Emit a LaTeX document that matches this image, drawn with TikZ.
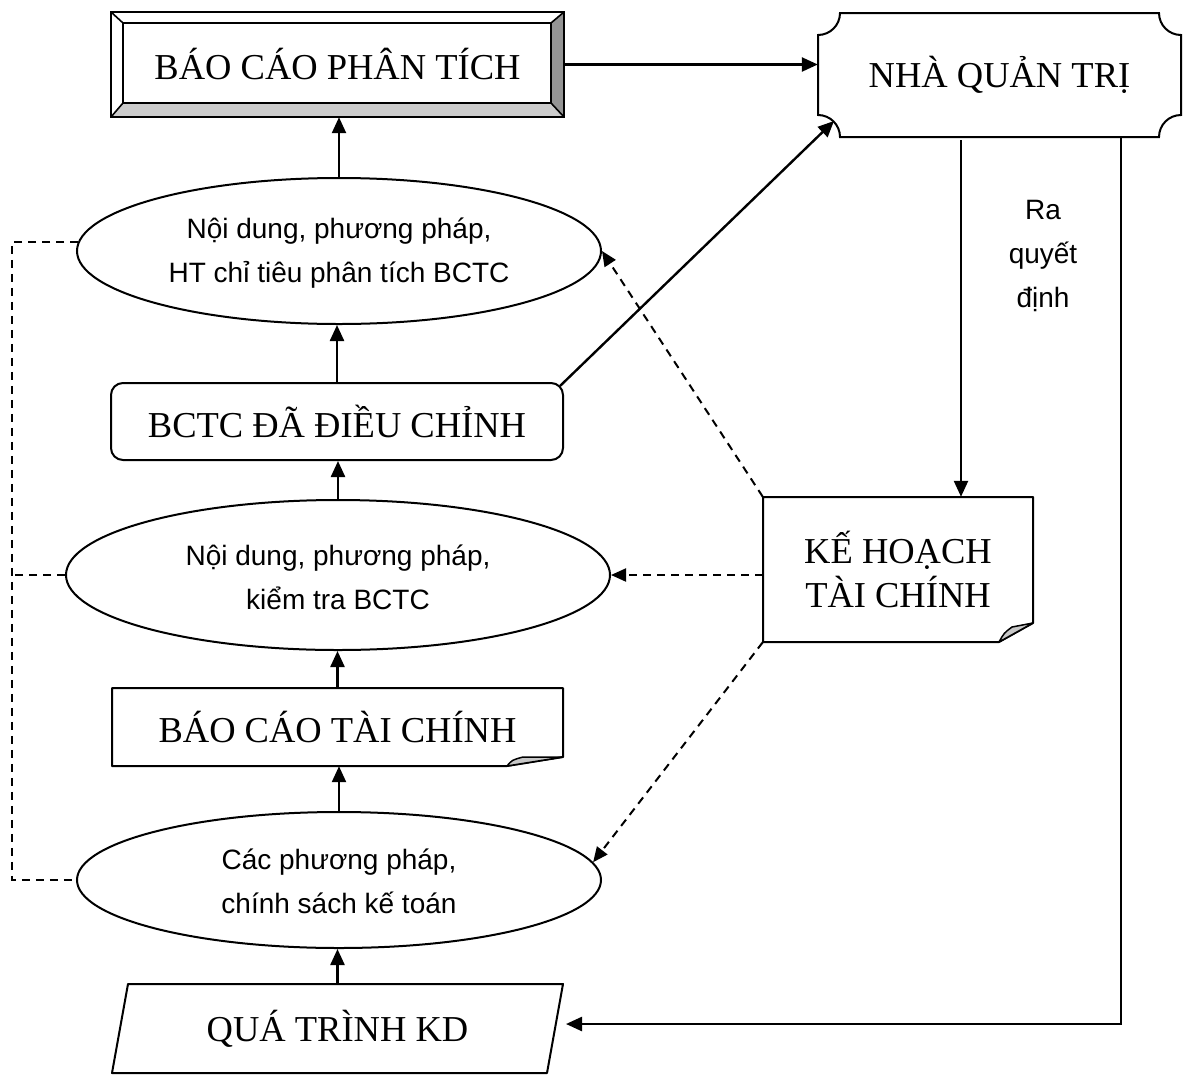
\documentclass[tikz,border=0pt]{standalone}
\usepackage{fontspec}
\setmainfont{Liberation Serif}
\newfontfamily\arialf{Liberation Sans}
\usetikzlibrary{shapes.geometric,arrows.meta,calc}

\begin{document}
\begin{tikzpicture}[x=1pt,y=-1pt,
  outline/.style={line width=2pt, draw=black},
  conn/.style={line width=2.4pt, -{Triangle[length=16pt,width=14pt]}},
  dconn/.style={line width=2pt, dash pattern=on 8pt off 6pt, -{Triangle[length=15pt,width=13pt]}},
  dline/.style={line width=1.7pt, dash pattern=on 8pt off 6pt},
  bigtxt/.style={font=\fontsize{36.5}{44}\selectfont, align=center, inner sep=0pt},
  smalltxt/.style={font=\arialf\fontsize{28}{44}\selectfont, align=center, inner sep=0pt},
  oval/.style={ellipse, outline, inner sep=0pt},
]
\useasboundingbox (0,0) rectangle (1183,1074);

% bevelled frame of the analysis report
\fill[black!20] (111,117) -- (123,103) -- (551,103) -- (564,117) -- cycle;
\fill[black!42] (564,12) -- (551,23) -- (551,103) -- (564,117) -- cycle;
\draw[line width=2pt] (111,12) rectangle (564,117);
\draw[line width=1.6pt] (123,23) rectangle (551,103);
\draw[line width=1.6pt] (111,12) -- (123,23) (564,12) -- (551,23)
  (564,117) -- (551,103) (111,117) -- (123,103);
\node[bigtxt, minimum width=453, minimum height=105] (bcpt) at (337.5,64.5) {BÁO CÁO PHÂN TÍCH};

% manager plaque
\draw[outline] (840,13) -- (1159,13)
  arc[start angle=180, end angle=90, radius=22] -- (1181,115)
  arc[start angle=270, end angle=180, radius=22] -- (840,137)
  arc[start angle=360, end angle=270, radius=22] -- (818,35)
  arc[start angle=90, end angle=0, radius=22] -- cycle;
\node[bigtxt, minimum width=363, minimum height=124] (nqt) at (999.5,75) {NHÀ QUẢN TRỊ};
\coordinate (nqtc) at (834,121);

% ellipses
\node[oval, minimum width=524, minimum height=146] (e1) at (339,251) {};
\node[smalltxt] (e1t) at (339,253) {Nội dung, phương pháp,\\HT chỉ tiêu phân tích BCTC};
\node[oval, minimum width=544, minimum height=150] (e2) at (338,575) {};
\node[smalltxt] (e2t) at (338,577) {Nội dung, phương pháp,\\kiểm tra BCTC};
\node[oval, minimum width=524, minimum height=136] (e3) at (339,880) {};
\node[smalltxt] (e3t) at (339,881) {Các phương pháp,\\chính sách kế toán};

% adjusted statements
\node[bigtxt, outline, rounded corners=12pt, minimum width=452, minimum height=77] (bcdc) at (337,421.5) {BCTC ĐÃ ĐIỀU CHỈNH};

% financial statements (folded corner)
\draw[outline, line join=round] (112,688) -- (563,688) -- (563,757) -- (507,766) -- (112,766) -- cycle;
\filldraw[fill=black!22, line width=1.5pt, line join=round] (507,766) .. controls (512,760) .. (523,757) -- (563,757) -- cycle;
\node[bigtxt, minimum width=451, minimum height=78] (bctc) at (337.5,727) {BÁO CÁO TÀI CHÍNH};

% financial plan (folded corner)
\draw[outline, line join=round] (763,497) -- (1033,497) -- (1033,623) -- (999,642) -- (763,642) -- cycle;
\filldraw[fill=black!22, line width=1.5pt, line join=round] (999,642) .. controls (1004,633) .. (1012,627) -- (1033,623) -- cycle;
\node[bigtxt, minimum width=270, minimum height=145] (kh) at (898,569.5) {KẾ HOẠCH\\TÀI CHÍNH};

% business process (parallelogram)
\draw[outline, line join=round] (128,984) -- (563,984) -- (547,1073) -- (112,1073) -- cycle;
\node[bigtxt, minimum width=451, minimum height=89] (qt) at (337.5,1028.5) {QUÁ TRÌNH KD};

% decision label
\node[smalltxt] (rqd) at (1043,256) {Ra\\quyết\\định};

% solid connectors
\draw[conn] (bcpt.east) -- (bcpt.east -| nqt.west);
\draw[conn] ($(bcdc.north east)+(-4,4)$) -- (nqtc);
\coordinate (nd1) at (961,140);
\draw[conn] (nd1) -- (nd1 |- kh.north);
\coordinate (nd2) at (1121,136);
\coordinate (qtin) at (566,1024);
\draw[conn] (nd2) |- (qtin);
\draw[conn] (e1.north) -- (e1.north |- bcpt.south);
\draw[conn] (bcdc.north) -- (bcdc.north |- e1.south);
\draw[conn] (e2.north) -- (e2.north |- bcdc.south);
\draw[conn] (bctc.north) -- (bctc.north |- e2.south);
\draw[conn] (e3.north) -- (e3.north |- bctc.south);
\draw[conn] (qt.north) -- (qt.north |- e3.south);

% dashed connectors from the plan
\draw[dconn] (kh.north west) -- (e1.east);
\draw[dconn] (e2.east -| kh.west) -- (e2.east);
\draw[dconn] (kh.south west) -- (e3.4);

% dashed bracket on the left
\coordinate (lt) at (12,242);
\draw[dline] (e1.178) -- (e1.178 -| lt) -- (e3.west -| lt) -- (e3.west);
\draw[dline] (e2.west) -- (e2.west -| lt);
\end{tikzpicture}
\end{document}
